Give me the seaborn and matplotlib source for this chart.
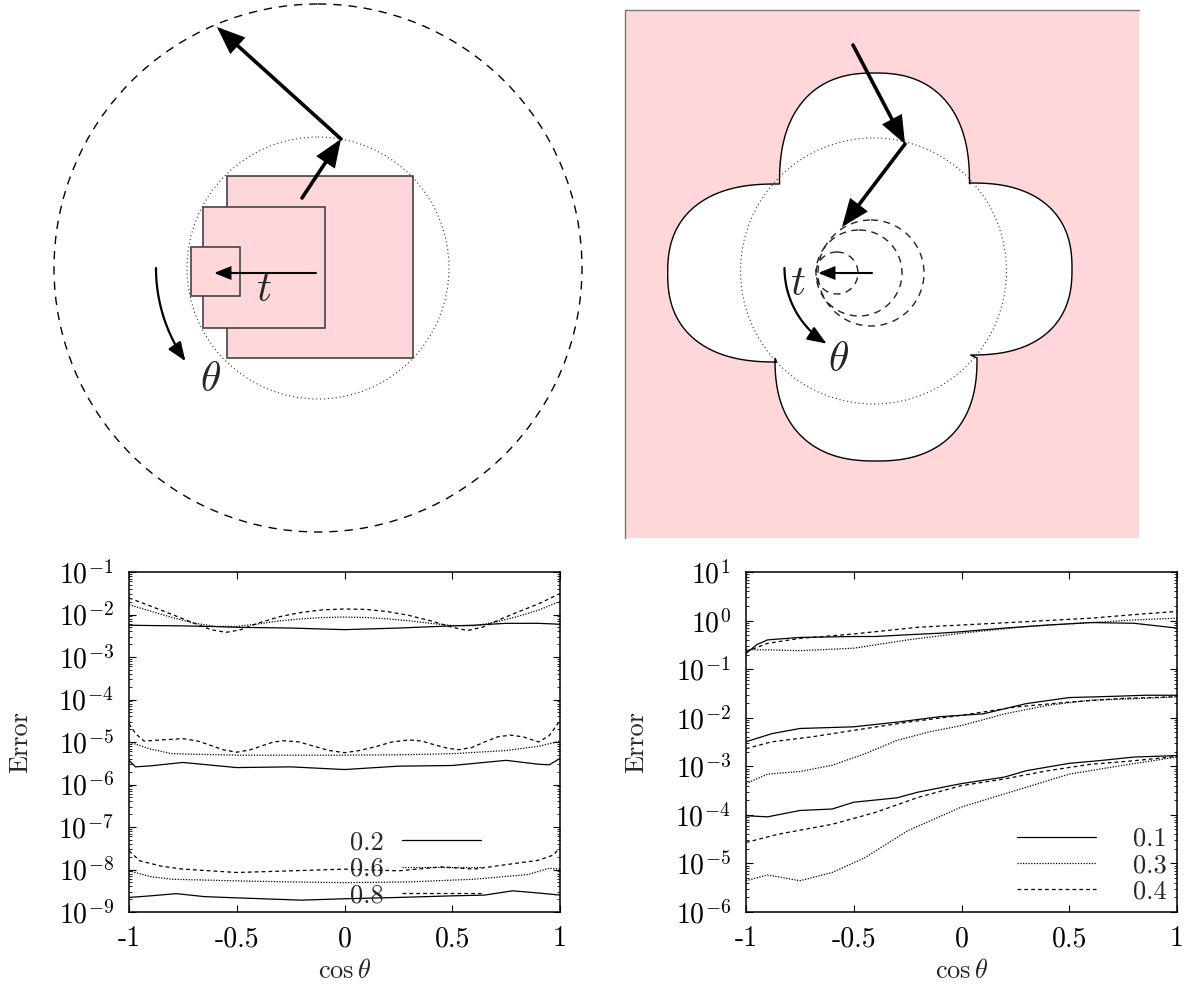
import numpy as np
import matplotlib
matplotlib.use("Agg")
import matplotlib.pyplot as plt
import seaborn as sns
from matplotlib.patches import Circle, Rectangle, Polygon, FancyArrowPatch
from matplotlib.path import Path
from matplotlib.lines import Line2D
from matplotlib.ticker import LogLocator, FixedLocator, FixedFormatter, NullFormatter

# ---------------- data: left panel (error vs cos theta) ----------------
left_labels = ["0.2", "0.6", "0.8"]

# group 1 (~1e-2)
l1_x_a = [-1, -0.9, -0.75, -0.6, -0.5, -0.25, 0, 0.25, 0.5, 0.6, 0.75, 0.9, 1]
l1_a = [5.6e-3, 5.5e-3, 5.4e-3, 5.2e-3, 5.0e-3, 4.8e-3, 4.4e-3, 4.8e-3, 5.4e-3, 5.6e-3, 6.2e-3, 6.2e-3, 5.9e-3]
l1_x_b = [-1, -0.9, -0.8, -0.7, -0.6, -0.5, -0.4, -0.3, -0.2, -0.1, 0, 0.1, 0.2, 0.3, 0.4,
          0.5, 0.6, 0.7, 0.8, 0.9, 1]
l1_b = [1.7e-2, 1.2e-2, 8.5e-3, 6.3e-3, 5.25e-3, 5.25e-3, 6.0e-3, 7.1e-3, 7.9e-3, 8.5e-3, 8.7e-3,
        8.5e-3, 7.9e-3, 7.1e-3, 6.2e-3, 5.5e-3, 5.4e-3, 6.6e-3, 8.9e-3, 1.26e-2, 2.04e-2]
l1_x_c = [-1, -0.9, -0.8, -0.7, -0.62, -0.55, -0.48, -0.4, -0.3, -0.2, -0.1, 0, 0.1, 0.2, 0.3,
          0.4, 0.5, 0.57, 0.64, 0.72, 0.8, 0.9, 1]
l1_c = [2.45e-2, 1.58e-2, 1.0e-2, 6.3e-3, 4.4e-3, 3.8e-3, 4.4e-3, 6.3e-3, 8.9e-3, 1.12e-2, 1.29e-2,
        1.35e-2, 1.32e-2, 1.17e-2, 9.5e-3, 7.1e-3, 5.0e-3, 4.2e-3, 5.0e-3, 7.6e-3, 1.12e-2, 1.78e-2, 3.1e-2]

# group 2 (~1e-5)
l2_x_a = [-1, -0.97, -0.9, -0.75, -0.5, -0.25, 0, 0.25, 0.5, 0.75, 0.9, 0.95, 1]
l2_a = [3.7e-6, 2.6e-6, 2.75e-6, 3.3e-6, 2.5e-6, 2.6e-6, 2.25e-6, 2.7e-6, 2.8e-6, 3.7e-6, 3.0e-6, 2.9e-6, 4.1e-6]
l2_x_b = [-1, -0.9, -0.8, -0.5, -0.25, 0, 0.25, 0.5, 0.75, 0.9, 1]
l2_b = [1.0e-5, 6.8e-6, 5.3e-6, 4.9e-6, 4.9e-6, 4.9e-6, 5.0e-6, 5.3e-6, 6.3e-6, 7.9e-6, 1.05e-5]
l2_x_c = [-1, -0.97, -0.93, -0.85, -0.75, -0.68, -0.62, -0.56, -0.5, -0.44, -0.39, -0.33, -0.28,
          -0.21, -0.14, -0.07, 0, 0.07, 0.15, 0.22, 0.3, 0.36, 0.42, 0.48, 0.53, 0.59, 0.65, 0.71,
          0.77, 0.83, 0.9, 0.95, 1]
l2_c = [2.7e-5, 1.58e-5, 1.05e-5, 1.12e-5, 1.2e-5, 1.05e-5, 8.3e-6, 6.5e-6, 5.75e-6, 6.5e-6, 7.9e-6,
        1.0e-5, 1.07e-5, 1.0e-5, 7.9e-6, 6.3e-6, 5.6e-6, 6.3e-6, 7.9e-6, 1.0e-5, 1.12e-5, 1.05e-5,
        8.5e-6, 7.1e-6, 6.6e-6, 7.4e-6, 1.0e-5, 1.32e-5, 1.45e-5, 1.32e-5, 1.0e-5, 1.41e-5, 3.2e-5]

# group 3 (~1e-8)
l3_x_a = [-1, -0.9, -0.78, -0.65, -0.5, -0.2, 0, 0.25, 0.5, 0.65, 0.78, 0.9, 1]
l3_a = [2.2e-9, 2.4e-9, 2.7e-9, 2.3e-9, 2.15e-9, 1.9e-9, 2.05e-9, 2.2e-9, 2.4e-9, 2.5e-9, 3.15e-9, 2.8e-9, 2.5e-9]
l3_x_b = [-1, -0.9, -0.8, -0.5, -0.25, 0, 0.3, 0.6, 0.85, 0.95, 1]
l3_b = [9.3e-9, 6.8e-9, 5.9e-9, 5.4e-9, 5.1e-9, 4.9e-9, 5.1e-9, 5.9e-9, 7.6e-9, 1.07e-8, 1.02e-8]
l3_x_c = [-1, -0.95, -0.85, -0.75, -0.5, -0.25, 0, 0.25, 0.45, 0.6, 0.75, 0.9, 0.97, 1]
l3_c = [2.75e-8, 1.6e-8, 1.2e-8, 1.02e-8, 8.5e-9, 9.3e-9, 1.02e-8, 9.3e-9, 1.15e-8, 1.02e-8,
        1.3e-8, 1.65e-8, 2.2e-8, 3.3e-8]

# ---------------- data: right panel ----------------
right_labels = ["0.1", "0.3", "0.4"]

r1_x_a = [-1, -0.95, -0.9, -0.75, -0.5, -0.4, -0.25, -0.1, 0, 0.2, 0.4, 0.6, 0.8, 1]
r1_a = [0.21, 0.32, 0.40, 0.45, 0.47, 0.47, 0.51, 0.55, 0.59, 0.70, 0.81, 0.91, 0.88, 0.70]
r1_x_b = [-1, -0.9, -0.75, -0.5, -0.25, 0, 0.3, 0.6, 0.8, 1]
r1_b = [0.25, 0.25, 0.24, 0.27, 0.40, 0.55, 0.75, 0.91, 1.03, 1.12]
r1_x_c = [-1, -0.9, -0.75, -0.5, -0.2, 0, 0.3, 0.6, 0.85, 1]
r1_c = [0.23, 0.34, 0.43, 0.53, 0.73, 0.81, 0.95, 1.12, 1.38, 1.54]

r2_x_a = [-1, -0.88, -0.75, -0.5, -0.3, -0.1, 0.1, 0.3, 0.5, 0.7, 0.85, 1]
r2_a = [3.2e-3, 4.7e-3, 6.0e-3, 6.5e-3, 8.1e-3, 1.05e-2, 1.2e-2, 1.95e-2, 2.6e-2, 2.75e-2, 2.9e-2, 2.9e-2]
r2_x_b = [-1, -0.9, -0.75, -0.6, -0.45, -0.3, -0.15, 0, 0.2, 0.4, 0.6, 0.8, 1]
r2_b = [4.4e-4, 6.9e-4, 7.8e-4, 1.05e-3, 1.8e-3, 3.4e-3, 5.1e-3, 6.9e-3, 1.2e-2, 1.8e-2, 2.3e-2, 2.45e-2, 2.7e-2]
r2_x_c = [-1, -0.88, -0.7, -0.5, -0.25, 0, 0.25, 0.5, 0.75, 1]
r2_c = [2.3e-3, 3.2e-3, 4.0e-3, 5.5e-3, 8.1e-3, 1.12e-2, 1.66e-2, 2.1e-2, 2.5e-2, 2.7e-2]

r3_x_a = [-1, -0.9, -0.75, -0.6, -0.5, -0.3, -0.2, 0, 0.2, 0.3, 0.5, 0.65, 0.8, 1]
r3_a = [9.6e-5, 9.1e-5, 1.23e-4, 1.32e-4, 1.82e-4, 2.24e-4, 2.95e-4, 4.4e-4, 6.0e-4, 8.1e-4,
        1.15e-3, 1.32e-3, 1.55e-3, 1.66e-3]
r3_x_b = [-1, -0.9, -0.75, -0.6, -0.45, -0.25, 0, 0.3, 0.5, 0.75, 1]
r3_b = [4.4e-6, 5.8e-6, 4.4e-6, 6.5e-6, 1.3e-5, 4.7e-5, 1.45e-4, 3.7e-4, 6.9e-4, 1.05e-3, 1.55e-3]
r3_x_c = [-1, -0.85, -0.6, -0.4, -0.2, 0, 0.2, 0.4, 0.6, 0.8, 1]
r3_c = [2.7e-5, 4.0e-5, 6.4e-5, 1.12e-4, 2.3e-4, 4.0e-4, 5.5e-4, 8.1e-4, 1.1e-3, 1.3e-3, 1.6e-3]

x_ticks = [-1, -0.5, 0, 0.5, 1]
x_tick_labels = ["-1", "-0.5", "0", "0.5", "1"]

# ---------------- styling ----------------
sns.set_theme(style="ticks")
plt.rcParams.update({
    "font.family": "cmr10",
    "mathtext.fontset": "cm",
    "axes.formatter.use_mathtext": True,
    "axes.unicode_minus": False,
    "axes.linewidth": 1.1,
    "axes.edgecolor": "black",
})

PINK = "#ffd6d9"
styles = ["-", (0, (1, 1.2)), (0, (3, 2.5))]

fig = plt.figure(figsize=(11.88, 9.85), dpi=100)
W, H = 1188, 985

# ---------------- top diagrams (pixel coordinates) ----------------
top_h = 545
ax0 = fig.add_axes([0, 1 - top_h / H, 1, top_h / H])
ax0.set_xlim(0, W)
ax0.set_ylim(top_h, 0)
ax0.axis("off")


def arrow(ax, p0, p1, lw, ms, z=5):
    a = FancyArrowPatch(p0, p1, arrowstyle="-|>,head_length=0.7,head_width=0.28",
                        mutation_scale=ms, lw=lw, color="black",
                        shrinkA=0, shrinkB=0, zorder=z, joinstyle="miter")
    ax.add_patch(a)


def arc_arrow(ax, c, r, a0, a1, lw=1.6, ms=16):
    t = np.radians(np.linspace(a0, a1, 40))
    pts = np.column_stack([c[0] + r * np.cos(t), c[1] + r * np.sin(t)])
    a = FancyArrowPatch(path=Path(pts), arrowstyle="-|>,head_length=0.7,head_width=0.28",
                        mutation_scale=ms, lw=lw, color="black", zorder=5)
    ax.add_patch(a)


# left diagram
c1 = (318, 268)
ax0.add_patch(Circle(c1, 264, fill=False, ec="black", lw=1.0, ls=(0, (6, 5))))
for (x0, y0, w, h) in [(227, 176, 186, 182), (203, 207, 122, 121), (191, 247, 49, 49)]:
    ax0.add_patch(Rectangle((x0, y0), w, h, fc=PINK, ec="#444444", lw=1.2, zorder=2))
ax0.add_patch(Circle(c1, 131, fill=False, ec="#333333", lw=0.8, ls=(0, (1, 2.5)), zorder=3))
arrow(ax0, (302, 198), (341, 139), 2.6, 22)
arrow(ax0, (341, 139), (217, 27), 2.6, 22)
arrow(ax0, (316, 273), (214, 273), 1.5, 14)
ax0.text(264, 290, r"$t$", fontsize=30, ha="center", va="center", zorder=6)
arc_arrow(ax0, c1, 162, 180, 145)
ax0.text(211, 380, r"$\theta$", fontsize=30, ha="center", va="center", zorder=6)

# right diagram
c2 = (873.5, 271)
ax0.add_patch(Rectangle((625, 10), 514, 528, fc=PINK, ec="none", zorder=1))
ax0.plot([625, 625, 1139], [538, 10, 10], color="#777777", lw=1.0, zorder=2)

lobes = [  # centre x, centre y, semi x, semi y, start angle, end angle
    (874.5, 184, 95, 111, 180, 360),
    (970.5, 269, 101.5, 86, 270, 450),
    (876.0, 358, 101, 103, 0, 180),
    (776.7, 273, 109, 89, 90, 270),
]
n_exp = 2.4
pts = []
for (lx, ly, la, lb, t0, t1) in lobes:
    t = np.radians(np.linspace(t0, t1, 120))
    cx_ = np.sign(np.cos(t)) * np.abs(np.cos(t)) ** (2 / n_exp)
    cy_ = np.sign(np.sin(t)) * np.abs(np.sin(t)) ** (2 / n_exp)
    pts.append(np.column_stack([lx + la * cx_, ly + lb * cy_]))
flower = np.vstack(pts)
ax0.add_patch(Polygon(flower, closed=True, fc="white", ec="black", lw=1.0, zorder=2))
ax0.add_patch(Circle(c2, 133, fill=False, ec="#333333", lw=0.8, ls=(0, (1, 2.5)), zorder=3))
for (cx, r) in [(837, 21), (859, 43), (871, 53)]:
    ax0.add_patch(Circle((cx, 273), r, fill=False, ec="#222222", lw=1.0, ls=(0, (5, 4)), zorder=3))
arrow(ax0, (853, 45), (905, 144), 2.6, 22)
arrow(ax0, (905, 144), (842, 227), 2.6, 22)
arrow(ax0, (872, 273), (818, 273), 1.5, 14)
ax0.text(798, 284, r"$t$", fontsize=30, ha="center", va="center", zorder=6)
arc_arrow(ax0, (873.5, 268), 89, 180, 122)
ax0.text(838, 360, r"$\theta$", fontsize=30, ha="center", va="center", zorder=6)

# ---------------- bottom plots ----------------
ax_l = fig.add_axes([129 / W, (H - 912) / H, 431 / W, 340 / H])
ax_r = fig.add_axes([746 / W, (H - 912) / H, 431 / W, 340 / H])

left_sets = [
    [(l1_x_a, l1_a), (l1_x_b, l1_b), (l1_x_c, l1_c)],
    [(l2_x_a, l2_a), (l2_x_b, l2_b), (l2_x_c, l2_c)],
    [(l3_x_a, l3_a), (l3_x_b, l3_b), (l3_x_c, l3_c)],
]
right_sets = [
    [(r1_x_a, r1_a), (r1_x_b, r1_b), (r1_x_c, r1_c)],
    [(r2_x_a, r2_a), (r2_x_b, r2_b), (r2_x_c, r2_c)],
    [(r3_x_a, r3_a), (r3_x_b, r3_b), (r3_x_c, r3_c)],
]

for ax, sets, ylim in [(ax_l, left_sets, (1e-9, 1e-1)), (ax_r, right_sets, (1e-6, 1e1))]:
    for group in sets:
        for (xs, ys), ls in zip(group, styles):
            sns.lineplot(x=xs, y=ys, ax=ax, color="black", lw=0.9, linestyle=ls,
                         estimator=None, sort=False, legend=False)
    ax.set_yscale("log")
    ax.set_xlim(-1, 1)
    ax.set_ylim(*ylim)
    ax.yaxis.set_major_locator(LogLocator(base=10, numticks=20))
    ax.yaxis.set_minor_locator(LogLocator(base=10, subs=np.arange(2, 10), numticks=20))
    ax.yaxis.set_minor_formatter(NullFormatter())
    ax.xaxis.set_major_locator(FixedLocator(x_ticks))
    ax.xaxis.set_major_formatter(FixedFormatter(x_tick_labels))
    ax.tick_params(which="both", direction="in", top=True, right=True, colors="black")
    ax.tick_params(which="major", length=5, width=0.8, labelsize=20)
    ax.tick_params(which="minor", length=2.5, width=0.6)
    ax.tick_params(axis="x", pad=10)
    ax.tick_params(axis="y", pad=11)
    ax.set_xlabel(r"$\cos\theta$", fontsize=19)
    ax.set_ylabel("Error", fontsize=19)
    ax.xaxis.set_label_coords(0.5, -0.137)
    for s in ax.spines.values():
        s.set_visible(True)
        s.set_linewidth(1.1)

ax_l.yaxis.set_label_coords(-0.225, 0.5)
ax_r.yaxis.set_label_coords(-0.228, 0.5)

handles = [Line2D([], [], color="black", lw=0.9, linestyle=ls) for ls in styles]
ax_l.legend(handles, left_labels, loc="lower right", bbox_to_anchor=(0.86, -0.04),
            frameon=False, markerfirst=False, handlelength=3.0, handletextpad=0.7,
            labelspacing=0.1, fontsize=19, borderpad=0.2)
ax_r.legend(handles, right_labels, loc="lower right", bbox_to_anchor=(1.02, -0.03),
            frameon=False, markerfirst=True, handlelength=3.0, handletextpad=1.4,
            labelspacing=0.1, fontsize=19, borderpad=0.2)

fig.savefig("out.png", dpi=100)
